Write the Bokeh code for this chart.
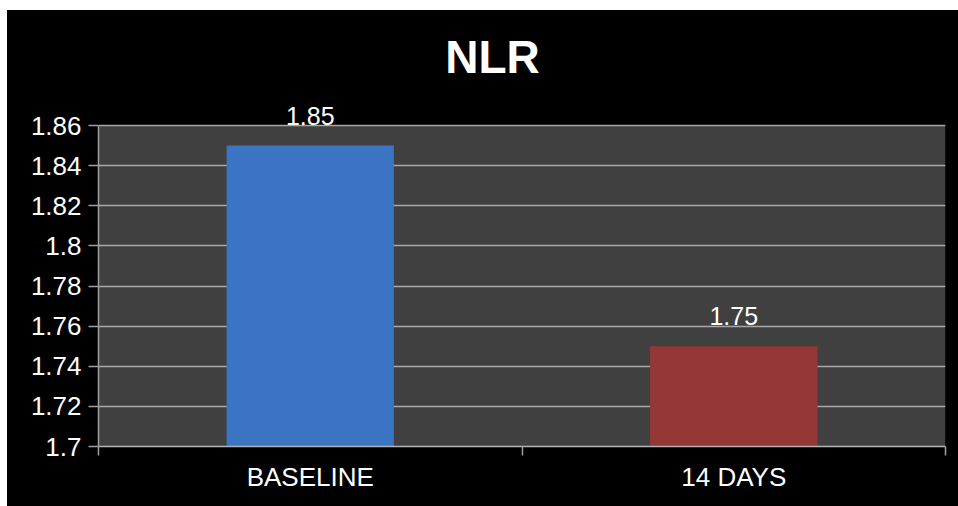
from bokeh.plotting import figure
from bokeh.models import ColumnDataSource, FixedTicker, LabelSet, Label, BoxAnnotation
from bokeh.core.properties import value
from bokeh.embed import file_html
from bokeh.resources import INLINE

# ---- data ----
categories = ["BASELINE", "14 DAYS"]
values = [1.85, 1.75]
value_labels = ["1.85", "1.75"]
bar_colors = ["#3A74C2", "#953735"]
y_ticks = [1.7, 1.72, 1.74, 1.76, 1.78, 1.8, 1.82, 1.84, 1.86]
y_tick_labels = ["1.7", "1.72", "1.74", "1.76", "1.78", "1.8", "1.82", "1.84", "1.86"]
title_text = "NLR"

FONT = "Liberation Sans"

# layout (pixels)
W, H = 951, 496
LEFT, RIGHT, BOTTOM = 91, 13, 60
AXIS_PX = 321          # pixel height of the axis span 1.7..1.86
HEADROOM_PX = 115      # space above the axis top inside the frame (title + labels)

span = y_ticks[-1] - y_ticks[0]
y_end = y_ticks[-1] + HEADROOM_PX * span / AXIS_PX

x_pos = [i + 0.5 for i in range(len(categories))]
boundaries = [float(i) for i in range(len(categories) + 1)]
src = ColumnDataSource(dict(x=x_pos, top=values, color=bar_colors, label=value_labels))

p = figure(width=W, height=H,
           x_range=(0, len(categories)), y_range=(y_ticks[0], y_end),
           output_backend="svg", toolbar_location=None,
           min_border_left=LEFT, min_border_right=RIGHT, min_border_top=0,
           min_border_bottom=BOTTOM,
           background_fill_color="black", border_fill_color="black",
           outline_line_color=None)
p.margin = (10, 0, 0, 7)
p.styles = {"background-color": "black"}

# plot-area background (gray) only over the axis span
p.add_layout(BoxAnnotation(bottom=y_ticks[0], top=y_ticks[-1], fill_color="#404040",
                           fill_alpha=1, line_color=None, level="image"))

p.vbar(x="x", top="top", bottom=y_ticks[0], width=0.395, fill_color="color",
       line_color=None, source=src)

labels = LabelSet(x="x", y="top", text="label", source=src, text_align="center",
                  text_baseline="alphabetic", y_offset=21, text_color="white",
                  text_font=value(FONT), text_font_size="25px")
p.add_layout(labels)

title = Label(x=394, y=390, x_units="screen", y_units="screen", text=title_text,
              text_align="center", text_baseline="alphabetic", text_color="white",
              text_font=FONT, text_font_size="46px", text_font_style="bold")
p.add_layout(title)

# x axis
xa = p.xaxis[0]
xa.ticker = FixedTicker(ticks=x_pos, minor_ticks=boundaries)
xa.major_label_overrides = {x: c for x, c in zip(x_pos, categories)}
xa.major_tick_out = 0
xa.major_tick_in = 0
xa.minor_tick_out = 9
xa.minor_tick_in = 0
xa.minor_tick_line_color = "#A0A0A0"
xa.minor_tick_line_width = 1.5
xa.axis_line_color = "#B4B4B4"
xa.axis_line_width = 1.5
xa.major_label_text_color = "white"
xa.major_label_text_font = FONT
xa.major_label_text_font_size = "26px"
xa.major_label_standoff = 6

# y axis
ya = p.yaxis[0]
ya.ticker = FixedTicker(ticks=y_ticks)
ya.bounds = (y_ticks[0], y_ticks[-1])
ya.major_label_overrides = {t: s for t, s in zip(y_ticks, y_tick_labels)}
ya.major_tick_out = 10
ya.major_tick_in = 0
ya.minor_tick_out = 0
ya.minor_tick_in = 0
ya.major_tick_line_color = "#A0A0A0"
ya.major_tick_line_width = 1.5
ya.axis_line_color = "#A0A0A0"
ya.axis_line_width = 1.5
ya.major_label_text_color = "white"
ya.major_label_text_font = FONT
ya.major_label_text_font_size = "26px"
ya.major_label_standoff = 7

p.xgrid.visible = False
p.ygrid.ticker = FixedTicker(ticks=y_ticks)
p.ygrid.grid_line_color = "#A8A8A8"
p.ygrid.grid_line_width = 1.5

open("out.html", "w").write(file_html(p, INLINE))
